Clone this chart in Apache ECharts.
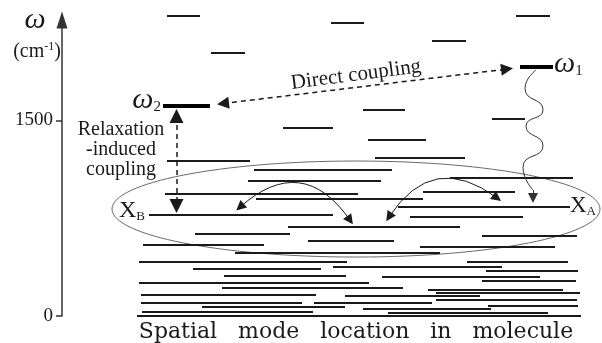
<!DOCTYPE html>
<html>
<head>
<meta charset="utf-8">
<script src="https://cdn.jsdelivr.net/npm/echarts@6.0.0/dist/echarts.min.js"></script>
<style>
  html, body { margin: 0; padding: 0; background: #fff; }
  #main { width: 602px; height: 343px; }
</style>
</head>
<body>
<div id="main"></div>
<script>
// 能级数据：[起点位置, 终点位置, ω (cm-1)]
const upperLevels = [
  [167, 200, 2300], [331, 364, 2245], [516, 550, 2300], [432, 466, 2110], [211, 245, 2015],
  [363, 405, 1580], [492, 525, 1510], [283, 333, 1440], [368, 426, 1350], [375, 465, 1215],
  [167, 250, 1190]
];

// 下方密集能级带
const bandLevels = [
  [254, 392, 1120], [450, 573, 1060], [248, 381, 1035], [423, 515, 950], [165, 358, 935],
  [256, 423, 895], [398, 570, 835], [149, 333, 775], [410, 523, 760], [288, 460, 685],
  [195, 290, 630], [482, 577, 615], [308, 394, 580], [143, 264, 550], [420, 555, 530],
  [235, 440, 485], [139, 347, 415], [467, 568, 415], [333, 502, 375], [193, 321, 360],
  [486, 578, 345], [224, 346, 305], [382, 540, 300], [482, 576, 270], [139, 369, 255],
  [222, 403, 215], [428, 563, 205], [436, 580, 175], [141, 316, 160], [345, 480, 155],
  [436, 577, 125], [141, 302, 105], [314, 432, 100], [488, 578, 75], [202, 345, 70],
  [363, 491, 55], [142, 313, 30], [388, 548, 25], [137, 581, 0]
];

// 两个被激发的模式 ω2, ω1（粗线）
const modeLevels = [[163, 210, 1615], [520, 553, 1910]];

const yTicks = [0, 1500];

// 箭头：[起点, 终点]
const directArrow = [[223, 1629], [507, 1893]];
const relaxArrow = [[176.5, 1533], [176.5, 843]];
const curvedArrows = [
  { from: [240, 835], to: [350, 735], curve: 0.56 },
  { from: [389, 759], to: [497, 905], curve: 0.53 }
];

// ω1 -> XA 的波浪线
const wavePoints = [
  [536, 1885], [525, 1745], [543, 1580], [526, 1455], [543, 1305], [523, 1140], [533, 965]
];
const waveHead = [[533, 965], [533, 905]];

// 包络椭圆：[中心位置, 中心 ω, 半宽, 半高]
const ellipse = [[356, 820, 244, 368]];

const ink = '#1a1a1a';
const serif = '"Liberation Serif", "Times New Roman", serif';

const chart = echarts.init(document.getElementById('main'));

const toSeg = lv => ({ coords: [[lv[0], lv[2]], [lv[1], lv[2]]] });

const option = {
  animation: false,
  backgroundColor: '#fff',
  grid: { left: 62, right: 0, top: 20, bottom: 27 },
  xAxis: { type: 'value', min: 62, max: 602, show: false },
  yAxis: {
    type: 'value', min: 0, max: 2269,
    splitLine: { show: false },
    axisLine: {
      show: true,
      symbol: ['none', 'triangle'],
      symbolSize: [11, 17],
      lineStyle: { color: '#333', width: 1.5 }
    },
    axisTick: { show: true, length: 6, customValues: yTicks, lineStyle: { color: '#333', width: 1.5 } },
    axisLabel: {
      customValues: yTicks, margin: 9, color: ink, fontSize: 19, fontFamily: serif,
      formatter: v => String(v)
    }
  },
  graphic: [
    { type: 'text', x: 35, y: 20, style: { text: 'ω', font: 'italic 30px ' + serif, fill: ink, align: 'center', verticalAlign: 'middle' } },
    {
      type: 'text', x: 37, y: 52,
      style: {
        text: '{m|(cm}{s|-1}{m|)}', align: 'center', verticalAlign: 'middle',
        rich: {
          m: { fontSize: 20, fontFamily: serif, fill: ink, lineHeight: 22 },
          s: { fontSize: 12, fontFamily: serif, fill: ink, verticalAlign: 'top', lineHeight: 12 }
        }
      }
    },
    {
      type: 'text', x: 161, y: 100,
      style: {
        text: '{w|ω}{s|2}', align: 'right', verticalAlign: 'middle',
        rich: {
          w: { fontSize: 30, fontFamily: serif, fontStyle: 'italic', fill: ink, lineHeight: 30 },
          s: { fontSize: 15, fontFamily: serif, fill: ink, verticalAlign: 'bottom', lineHeight: 18 }
        }
      }
    },
    {
      type: 'text', x: 554, y: 64,
      style: {
        text: '{w|ω}{s|1}', align: 'left', verticalAlign: 'middle',
        rich: {
          w: { fontSize: 30, fontFamily: serif, fontStyle: 'italic', fill: ink, lineHeight: 30 },
          s: { fontSize: 15, fontFamily: serif, fill: ink, verticalAlign: 'bottom', lineHeight: 18 }
        }
      }
    },
    {
      type: 'text', x: 356, y: 75, rotation: 0.13,
      style: { text: 'Direct coupling', font: '21px ' + serif, fill: ink, align: 'center', verticalAlign: 'middle' }
    },
    {
      type: 'text', x: 121, y: 150,
      style: { text: 'Relaxation\n-induced\ncoupling', font: '20px ' + serif, lineHeight: 20, fill: ink, align: 'center', verticalAlign: 'middle' }
    },
    {
      type: 'text', x: 145, y: 211,
      style: {
        text: '{x|X}{s|B}', align: 'right', verticalAlign: 'middle',
        rich: {
          x: { fontSize: 24, fontFamily: serif, fill: ink, lineHeight: 24 },
          s: { fontSize: 13, fontFamily: serif, fill: ink, verticalAlign: 'bottom', lineHeight: 16 }
        }
      }
    },
    {
      type: 'text', x: 570, y: 206,
      style: {
        text: '{x|X}{s|A}', align: 'left', verticalAlign: 'middle',
        rich: {
          x: { fontSize: 23, fontFamily: serif, fill: ink, lineHeight: 24 },
          s: { fontSize: 13, fontFamily: serif, fill: ink, verticalAlign: 'bottom', lineHeight: 16 }
        }
      }
    },
    {
      type: 'text', x: 356, y: 332,
      style: { text: 'Spatial   mode   location   in   molecule', font: '22px "DejaVu Serif", serif', fill: ink, align: 'center', verticalAlign: 'middle' }
    }
  ],
  series: [
    {
      type: 'custom',
      coordinateSystem: 'cartesian2d',
      silent: true,
      clip: false,
      data: ellipse,
      renderItem: function (params, api) {
        const c = api.coord([api.value(0), api.value(1)]);
        const s = api.size([api.value(2), api.value(3)]);
        return {
          type: 'ellipse',
          shape: { cx: c[0], cy: c[1], rx: s[0], ry: s[1] },
          style: { fill: 'none', stroke: '#6a6a6a', lineWidth: 1 }
        };
      }
    },
    {
      type: 'lines', coordinateSystem: 'cartesian2d', silent: true, clip: false,
      lineStyle: { color: ink, width: 2, opacity: 1 },
      data: upperLevels.concat(bandLevels).map(toSeg)
    },
    {
      type: 'lines', coordinateSystem: 'cartesian2d', silent: true, clip: false,
      lineStyle: { color: '#000', width: 4, opacity: 1 },
      data: modeLevels.map(toSeg)
    },
    {
      type: 'lines', coordinateSystem: 'cartesian2d', silent: true, clip: false,
      symbol: ['triangle', 'triangle'], symbolSize: 12,
      lineStyle: { color: ink, width: 1.5, type: [5, 4], opacity: 1 },
      data: [{ coords: directArrow }, { coords: relaxArrow, symbolSize: 14 }]
    },
    {
      type: 'lines', coordinateSystem: 'cartesian2d', silent: true, clip: false,
      symbol: ['triangle', 'triangle'], symbolSize: 10,
      lineStyle: { color: ink, width: 1, opacity: 1 },
      data: curvedArrows.map(a => ({ coords: [a.from, a.to], lineStyle: { curveness: a.curve } }))
    },
    {
      type: 'line', silent: true, clip: false,
      smooth: 0.6, symbol: 'none',
      lineStyle: { color: '#333', width: 1 },
      data: wavePoints
    },
    {
      type: 'lines', coordinateSystem: 'cartesian2d', silent: true, clip: false,
      symbol: ['none', 'triangle'], symbolSize: 10,
      lineStyle: { color: '#333', width: 1, opacity: 1 },
      data: [{ coords: waveHead }]
    }
  ]
};

chart.setOption(option);
</script>
</body>
</html>
